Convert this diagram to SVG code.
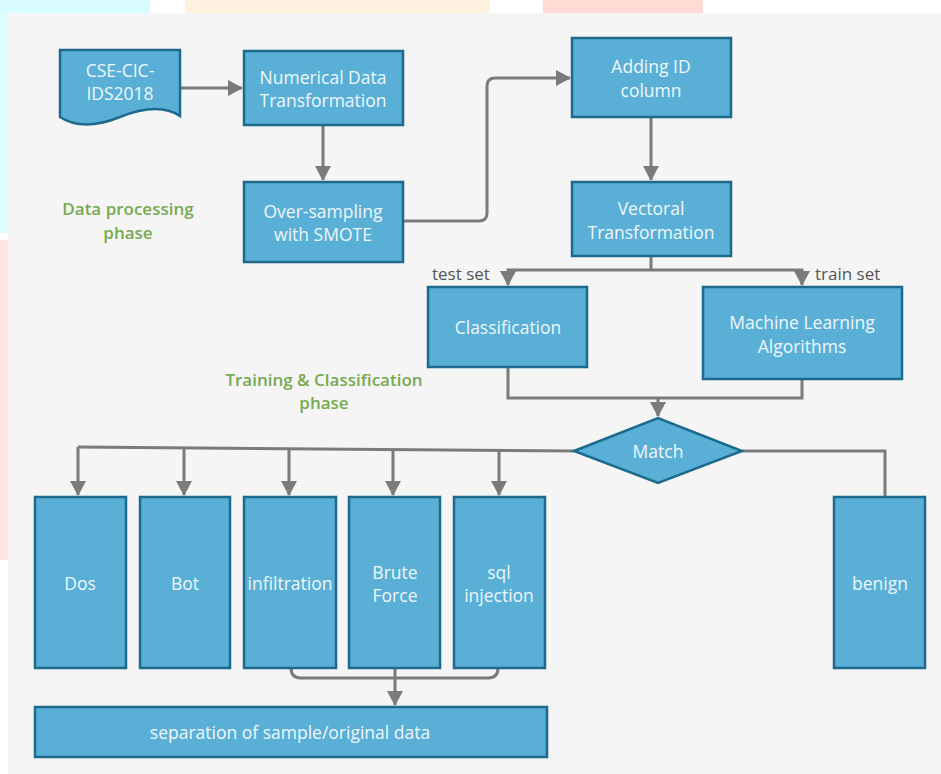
<svg xmlns="http://www.w3.org/2000/svg" width="941" height="774" viewBox="0 0 941 774">
<defs>
<style>
.box{fill:#5aafd6;stroke:#1d6a8c;stroke-width:2.5}
.lbl{font-family:"Open Sans","Noto Sans",sans-serif;font-size:17.5px;fill:#eef7fb;text-anchor:middle;dominant-baseline:central}
.phase{font-family:"Open Sans","Noto Sans",sans-serif;font-size:17px;font-weight:600;fill:#77aa50;text-anchor:middle;dominant-baseline:central}
.edge{font-family:"Open Sans","Noto Sans",sans-serif;font-size:17px;fill:#555555;dominant-baseline:central}
.con{fill:none;stroke:#7b7b7b;stroke-width:3}
</style>
<marker id="arr" markerUnits="userSpaceOnUse" markerWidth="18" markerHeight="16" refX="14" refY="8" orient="auto">
<path d="M0,0 L15,8 L0,16 Z" fill="#7b7b7b"/>
</marker>
</defs>
<rect width="941" height="774" fill="#ffffff"/>
<rect x="0" y="0" width="150" height="13" fill="#d8fcff"/>
<rect x="0" y="13" width="8" height="220" fill="#dcfcff"/>
<rect x="185" y="0" width="305" height="13" fill="#fff0e0"/>
<rect x="543" y="0" width="160" height="13" fill="#ffdcd6"/>
<rect x="0" y="240" width="8" height="320" fill="#ffe4e4"/>
<rect x="8" y="13" width="933" height="761" fill="#f5f5f5"/>

<g id="connectors">
<path class="con" d="M180,88 H242" marker-end="url(#arr)"/>
<path class="con" d="M323,125 V180" marker-end="url(#arr)"/>
<path class="con" d="M403,221 H479 Q487,221 487,213 V86 Q487,78 495,78 H570" marker-end="url(#arr)"/>
<path class="con" d="M651,117 V180" marker-end="url(#arr)"/>
<path class="con" d="M651,256 V270"/>
<path class="con" d="M651,270 H508 V285" marker-end="url(#arr)"/>
<path class="con" d="M651,270 H802 V285" marker-end="url(#arr)"/>
<path class="con" d="M508,367 V398 H802 V379"/>
<path class="con" d="M658,398 V416" marker-end="url(#arr)"/>
<path class="con" d="M574,451 L78,447"/>
<path class="con" d="M78,447 V495" marker-end="url(#arr)"/>
<path class="con" d="M184,448 V495" marker-end="url(#arr)"/>
<path class="con" d="M289,449 V495" marker-end="url(#arr)"/>
<path class="con" d="M393,449 V495" marker-end="url(#arr)"/>
<path class="con" d="M499,450 V495" marker-end="url(#arr)"/>
<path class="con" d="M742,451 H885 V497"/>
<path class="con" d="M291,668 Q291,678 301,678 H488 Q498,678 498,668"/>
<path class="con" d="M395,668 V705" marker-end="url(#arr)"/>
</g>

<text class="edge" x="432" y="273">test set</text>
<text class="edge" x="815" y="273">train set</text>
<g id="phase1"><text class="phase" x="128" y="208">Data processing</text><text class="phase" x="128" y="232">phase</text></g>
<g id="phase2"><text class="phase" x="324" y="379">Training &amp; Classification</text><text class="phase" x="324" y="402">phase</text></g>

<g id="n_dataset">
<path class="box" d="M60,50 H180 V116 C165,106 145,107 120,117 C95,127 75,127 60,117 Z"/>
<text class="lbl" x="120" y="70">CSE-CIC-</text>
<text class="lbl" x="120" y="93">IDS2018</text>
</g>
<g id="n_numerical">
<rect class="box" x="244" y="51" width="159" height="74"/>
<text class="lbl" x="323" y="77">Numerical Data</text>
<text class="lbl" x="323" y="100">Transformation</text>
</g>
<g id="n_smote">
<rect class="box" x="244" y="182" width="159" height="80"/>
<text class="lbl" x="323" y="211">Over-sampling</text>
<text class="lbl" x="323" y="234">with SMOTE</text>
</g>
<g id="n_addid">
<rect class="box" x="572" y="38" width="159" height="79"/>
<text class="lbl" x="651" y="66">Adding ID</text>
<text class="lbl" x="651" y="90">column</text>
</g>
<g id="n_vectoral">
<rect class="box" x="572" y="182" width="159" height="74"/>
<text class="lbl" x="651" y="208">Vectoral</text>
<text class="lbl" x="651" y="232">Transformation</text>
</g>
<g id="n_classification">
<rect class="box" x="428" y="287" width="159" height="80"/>
<text class="lbl" x="508" y="327">Classification</text>
</g>
<g id="n_ml">
<rect class="box" x="703" y="287" width="199" height="92"/>
<text class="lbl" x="802" y="322">Machine Learning</text>
<text class="lbl" x="802" y="346">Algorithms</text>
</g>
<g id="n_match">
<path class="box" d="M574,451 L658,418 L742,451 L658,483 Z"/>
<text class="lbl" x="658" y="451">Match</text>
</g>
<g id="n_dos">
<rect class="box" x="35" y="497" width="91" height="171"/>
<text class="lbl" x="80" y="583">Dos</text>
</g>
<g id="n_bot">
<rect class="box" x="140" y="497" width="90" height="171"/>
<text class="lbl" x="185" y="583">Bot</text>
</g>
<g id="n_infiltration">
<rect class="box" x="244" y="497" width="92" height="171"/>
<text class="lbl" x="290" y="583">infiltration</text>
</g>
<g id="n_brute">
<rect class="box" x="349" y="497" width="91" height="171"/>
<text class="lbl" x="395" y="572">Brute</text>
<text class="lbl" x="395" y="595">Force</text>
</g>
<g id="n_sql">
<rect class="box" x="454" y="497" width="91" height="171"/>
<text class="lbl" x="499" y="572">sql</text>
<text class="lbl" x="499" y="595">injection</text>
</g>
<g id="n_benign">
<rect class="box" x="834" y="497" width="91" height="171"/>
<text class="lbl" x="880" y="583">benign</text>
</g>
<g id="n_separation">
<rect class="box" x="35" y="707" width="512" height="50"/>
<text class="lbl" x="290" y="732">separation of sample/original data</text>
</g>
</svg>
